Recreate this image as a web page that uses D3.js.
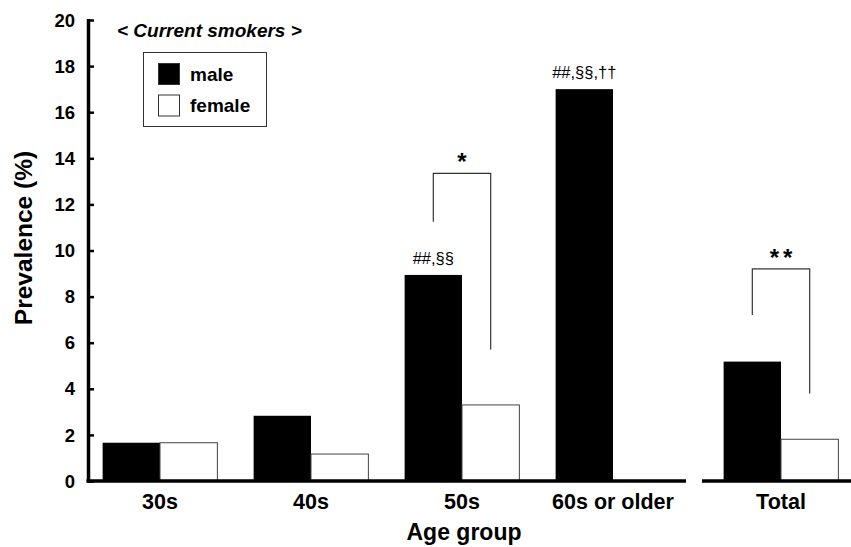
<!DOCTYPE html>
<html><head><meta charset="utf-8">
<script src="https://cdn.jsdelivr.net/npm/d3@7"></script>
<style>body{margin:0;background:#fff}svg{display:block;font-family:"Liberation Sans",Arial,sans-serif}</style>
</head><body>
<svg id="c" width="851" height="547"></svg>
<script>
const ageGroups = ["30s","40s","50s","60s or older"];
const totalGroup = ["Total"];
const series = ["male","female"];
const maleValues = [1.66, 2.83, 8.94, 17.0];
const femaleValues = [1.66, 1.17, 3.30, 0];
const totalMale = [5.18];
const totalFemale = [1.81];
const yTicks = [0,2,4,6,8,10,12,14,16,18,20];
const sigLabels = [{group:"50s", text:"##,§§"},{group:"60s or older", text:"##,§§,††"}];

const svg = d3.select("#c");
const y = d3.scaleLinear().domain([0,20]).range([481,20]);
const xA = d3.scaleBand().domain(ageGroups).range([84.5,688.5]).paddingInner(0.24).paddingOuter(0.12);
const xT = d3.scaleBand().domain(totalGroup).range([705.5,856.5]).paddingInner(0.24).paddingOuter(0.12);
const sub = d3.scaleBand().domain(series).paddingInner(0).paddingOuter(0);

function drawGroups(xs, cats, mv, fv){
  sub.range([0, xs.bandwidth()]);
  cats.forEach((c,i)=>{
    [[ "male", mv[i]],["female", fv[i]]].forEach(([s,v])=>{
      if(v<=0) return;
      svg.append("rect")
        .attr("x", xs(c)+sub(s)).attr("y", y(v))
        .attr("width", sub.bandwidth()).attr("height", y(0)-y(v))
        .attr("fill", s==="male"?"#000":"#fff")
        .attr("stroke", s==="male"?"none":"#444").attr("stroke-width",1);
    });
  });
}
drawGroups(xA, ageGroups, maleValues, femaleValues);
drawGroups(xT, totalGroup, totalMale, totalFemale);

// y axis
const yAxis = svg.append("g").attr("transform","translate(88,0)")
  .call(d3.axisRight(y).tickValues(yTicks).tickSize(6).tickFormat(""));
yAxis.select(".domain").remove();
yAxis.selectAll("line").attr("stroke","#000").attr("stroke-width",2.5);
svg.append("line").attr("x1",88.5).attr("x2",88.5).attr("y1",y(20)-1).attr("y2",y(0)+1.5).attr("stroke","#000").attr("stroke-width",3.5);
svg.append("g").selectAll("text").data(yTicks).join("text")
  .attr("x",75).attr("y",d=>y(d)).attr("dy","0.36em").attr("text-anchor","end")
  .attr("font-size",18.5).attr("font-weight","bold").text(d=>d);

// x axes
svg.append("line").attr("x1",86.5).attr("x2",686).attr("y1",y(0)).attr("y2",y(0)).attr("stroke","#000").attr("stroke-width",3.5);
svg.append("line").attr("x1",702).attr("x2",851).attr("y1",y(0)).attr("y2",y(0)).attr("stroke","#000").attr("stroke-width",3.5);
const xl = ageGroups.map(c=>({c, x:xA(c)+xA.bandwidth()/2})).concat(totalGroup.map(c=>({c,x:xT(c)+xT.bandwidth()/2})));
svg.append("g").selectAll("text").data(xl).join("text")
  .attr("x",d=>d.x).attr("y",509).attr("text-anchor","middle")
  .attr("font-size",21.5).attr("font-weight","bold").text(d=>d.c);

// axis titles
svg.append("text").attr("x",464).attr("y",540).attr("text-anchor","middle")
  .attr("font-size",23).attr("font-weight","bold").text("Age group");
svg.append("text").attr("transform","translate(32,238) rotate(-90)").attr("text-anchor","middle")
  .attr("font-size",24.5).attr("font-weight","bold").text("Prevalence (%)");

// title
svg.append("text").attr("x",117).attr("y",37).attr("font-size",19).attr("font-style","italic").attr("font-weight","bold")
  .text("< Current smokers >");

// legend
svg.append("rect").attr("x",143.5).attr("y",52.5).attr("width",123).attr("height",74).attr("fill","#fff").attr("stroke","#333").attr("stroke-width",1);
series.forEach((s,i)=>{
  svg.append("rect").attr("x",158.5).attr("y",63.5+i*31.5).attr("width",21).attr("height",21)
    .attr("fill", s==="male"?"#000":"#fff").attr("stroke","#333").attr("stroke-width",1);
  svg.append("text").attr("x",190).attr("y",74+i*31.5).attr("dy","0.36em")
    .attr("font-size",19).attr("font-weight","bold").text(s);
});

// significance labels over male bars
sub.range([0, xA.bandwidth()]);
sigLabels.forEach(d=>{
  const i = ageGroups.indexOf(d.group);
  svg.append("text").attr("x", xA(d.group)+sub("male")+sub.bandwidth()/2).attr("y", y(maleValues[i])-11)
    .attr("text-anchor","middle").attr("font-size",16.5).text(d.text);
});

// brackets
function bracket(xs, cat, topVal, leftVal, rightVal, label){
  sub.range([0, xs.bandwidth()]);
  const xl = xs(cat)+sub("male")+sub.bandwidth()/2;
  const xr = xs(cat)+sub("female")+sub.bandwidth()/2;
  svg.append("path").attr("d",`M${xl},${y(leftVal)}V${y(topVal)}H${xr}V${y(rightVal)}`)
    .attr("fill","none").attr("stroke","#333").attr("stroke-width",1.2);
  svg.append("text").attr("x",(xl+xr)/2 + (label.length-1)*2).attr("y",y(topVal)-3).attr("text-anchor","middle")
    .attr("font-size",24).attr("font-weight","bold").attr("letter-spacing", label.length>1?4:0).text(label);
}
bracket(xA, "50s", 13.35, 11.25, 5.7, "*");
bracket(xT, "Total", 9.2, 7.2, 3.8, "**");
</script>
</body></html>
